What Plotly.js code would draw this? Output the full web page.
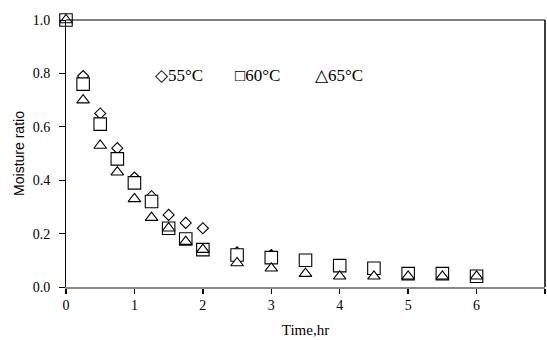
<!DOCTYPE html>
<html>
<head>
<meta charset="utf-8">
<script src="https://cdn.plot.ly/plotly-3.0.1.min.js"></script>
<style>html,body{margin:0;padding:0;background:#fff;}#chart{width:547px;height:340px;}</style>
</head>
<body>
<div id="chart"></div>
<script>
const time55 = [0, 0.25, 0.5, 0.75, 1, 1.25, 1.5, 1.75, 2, 2.5, 3, 3.5];
const mr55 = [1.0, 0.79, 0.65, 0.52, 0.41, 0.34, 0.27, 0.24, 0.22, 0.13, 0.12, 0.10];
const time60 = [0, 0.25, 0.5, 0.75, 1, 1.25, 1.5, 1.75, 2, 2.5, 3, 3.5, 4, 4.5, 5, 5.5, 6];
const mr60 = [1.0, 0.76, 0.61, 0.48, 0.39, 0.32, 0.22, 0.18, 0.14, 0.12, 0.11, 0.10, 0.08, 0.07, 0.05, 0.05, 0.04];
const time65 = [0, 0.25, 0.5, 0.75, 1, 1.25, 1.5, 1.75, 2, 2.5, 3, 3.5, 4, 4.5, 5, 5.5, 6];
const mr65 = [1.0, 0.70, 0.53, 0.43, 0.33, 0.26, 0.22, 0.17, 0.14, 0.09, 0.07, 0.05, 0.04, 0.04, 0.04, 0.04, 0.04];
const seriesNames = ['55°C', '60°C', '65°C'];
const legendGlyphs = ['◇', '□', '△'];
const xTicks = [0, 1, 2, 3, 4, 5, 6, 7];
const yTicks = [0, 0.2, 0.4, 0.6, 0.8, 1.0];

const SERIF = 'Liberation Serif';
const mk = (sym, size) => ({symbol: sym, size: size, color: '#fff', line: {color: '#000', width: 1.1}});
const traces = [
  {x: time55, y: mr55, mode: 'markers', name: seriesNames[0], cliponaxis: false, marker: mk('diamond', 8.5)},
  {x: time60, y: mr60, mode: 'markers', name: seriesNames[1], cliponaxis: false, marker: mk('square', 12.5)},
  {x: time65, y: mr65, mode: 'markers', name: seriesNames[2], cliponaxis: false, marker: mk('triangle-up', 11)}
];
const legendX = [0.181, 0.348, 0.515];
const annotations = seriesNames.map((n, i) => ({
  xref: 'paper', yref: 'paper', x: legendX[i], y: 0.794, xanchor: 'left', yanchor: 'middle',
  text: legendGlyphs[i] + n, showarrow: false,
  font: {family: SERIF, size: 17, color: '#000'}
}));
const layout = {
  width: 547, height: 340,
  margin: {l: 66, r: 2, t: 20, b: 53},
  paper_bgcolor: '#fff', plot_bgcolor: '#fff',
  font: {family: SERIF, size: 14, color: '#000'},
  showlegend: false,
  annotations: annotations,
  xaxis: {
    range: [0, 7], tickvals: xTicks, ticktext: xTicks.map(String),
    showgrid: false, zeroline: false, showline: true, linecolor: '#888', linewidth: 1.5,
    ticks: 'outside', ticklen: 5, tickcolor: '#000', tickwidth: 1.5,
    tickfont: {family: SERIF, size: 14, color: '#000'},
    title: {text: 'Time,hr', font: {family: SERIF, size: 15, color: '#000'}, standoff: 12}
  },
  yaxis: {
    range: [0, 1.0], tickvals: yTicks, ticktext: yTicks.map(v => v.toFixed(1)),
    showgrid: false, zeroline: false, showline: true, linecolor: '#000', linewidth: 1,
    ticks: 'outside', ticklen: 6, tickcolor: '#000', ticklabelstandoff: 6,
    tickfont: {family: SERIF, size: 14, color: '#000'},
    title: {text: 'Moisture ratio', font: {family: 'Liberation Sans', size: 14, color: '#000'}, standoff: 4}
  },
  shapes: [
    {type: 'line', xref: 'paper', yref: 'paper', x0: 0, x1: 1, y0: 1, y1: 1, line: {color: '#000', width: 1}},
    {type: 'line', xref: 'paper', yref: 'paper', x0: 1, x1: 1, y0: 0, y1: 1, line: {color: '#000', width: 1.5}}
  ]
};
Plotly.newPlot('chart', traces, layout, {displayModeBar: false, staticPlot: true});
</script>
</body>
</html>
